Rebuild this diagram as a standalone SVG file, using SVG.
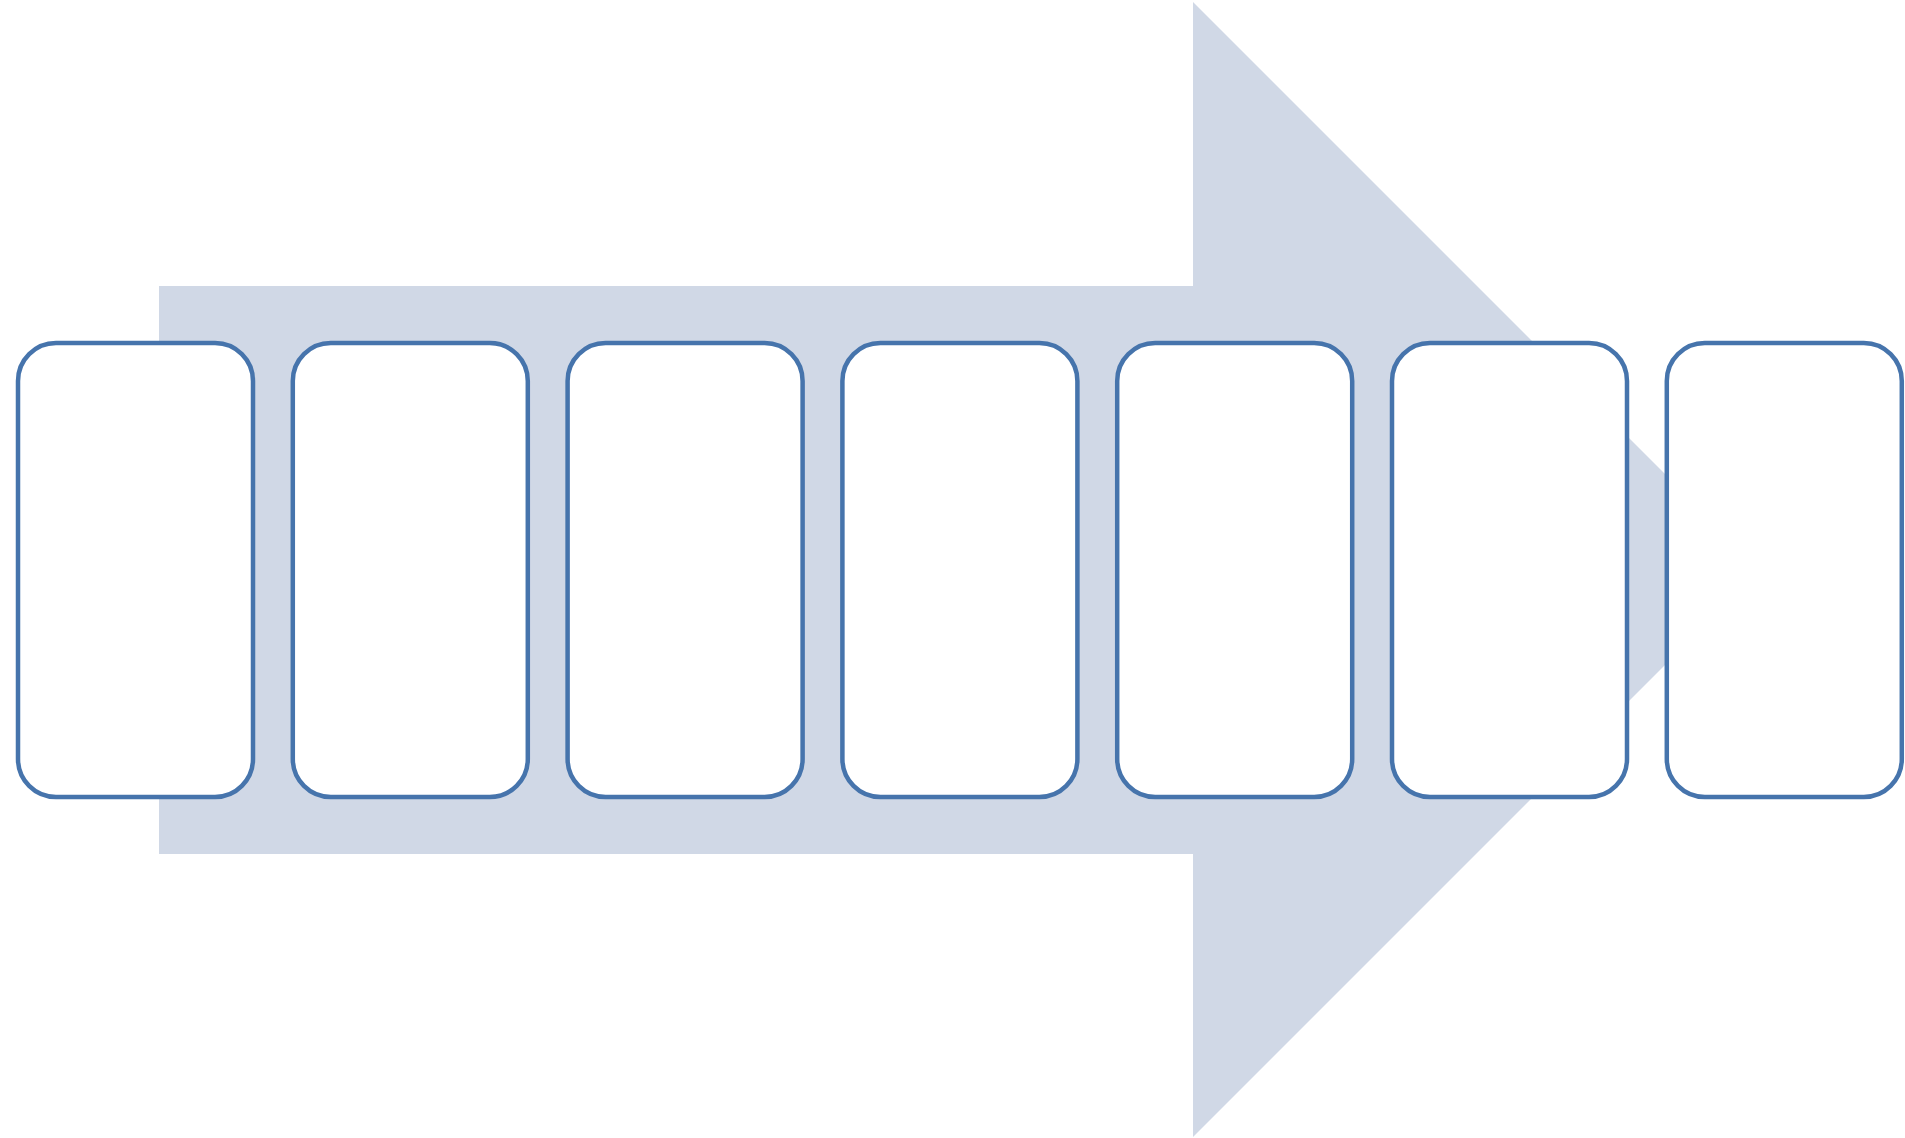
<svg xmlns="http://www.w3.org/2000/svg" width="1905" height="1138" viewBox="0 0 1905 1138">
<style>
.box{fill:#ffffff;stroke:#4674ac;stroke-width:4.5}
.arrow{fill:#d0d8e6;stroke:none}
</style>
<rect width="1905" height="1138" fill="#ffffff"/>
<g id="arrow">
<polygon class="arrow" points="159,286 1193,286 1193,2 1760.5,569.5 1193,1137 1193,854 159,854"/>
</g>
<g id="node1"><rect class="box" x="18" y="343" width="235" height="454" rx="38" ry="38"/></g>
<g id="node2"><rect class="box" x="292.8" y="343" width="235" height="454" rx="38" ry="38"/></g>
<g id="node3"><rect class="box" x="567.6" y="343" width="235" height="454" rx="38" ry="38"/></g>
<g id="node4"><rect class="box" x="842.4" y="343" width="235" height="454" rx="38" ry="38"/></g>
<g id="node5"><rect class="box" x="1117.2" y="343" width="235" height="454" rx="38" ry="38"/></g>
<g id="node6"><rect class="box" x="1392" y="343" width="235" height="454" rx="38" ry="38"/></g>
<g id="node7"><rect class="box" x="1666.8" y="343" width="235" height="454" rx="38" ry="38"/></g>
<g id="connectors"></g>
</svg>
